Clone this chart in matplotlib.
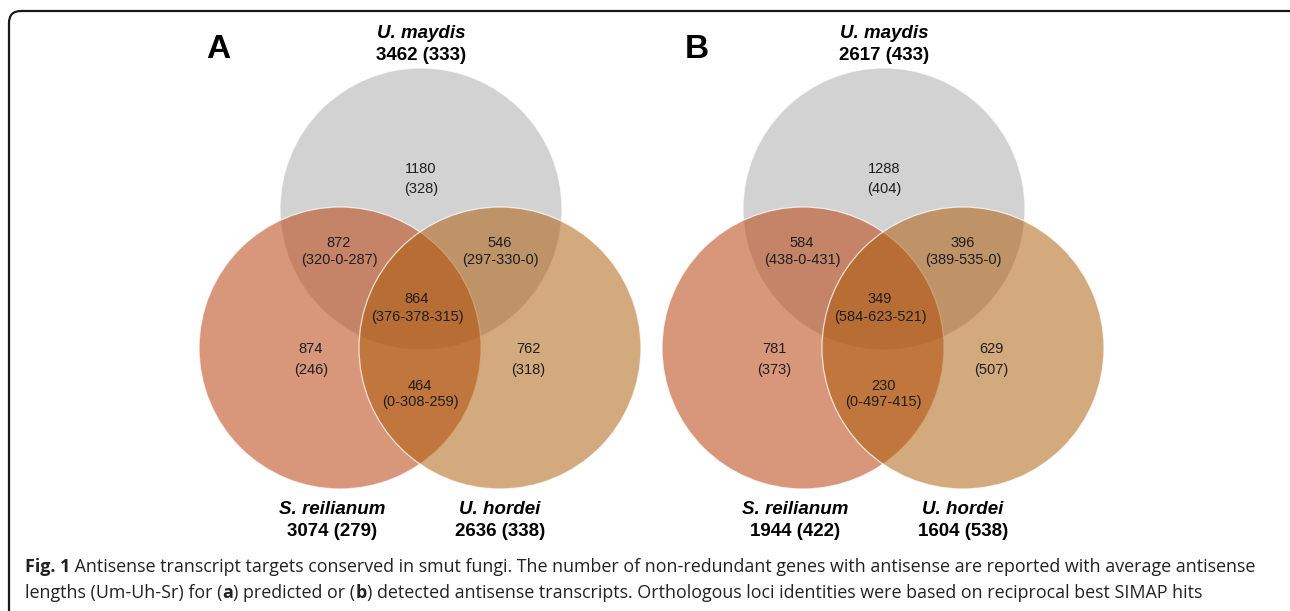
"""
Venn diagrams of antisense transcript targets (Um / Sr / Uh), panels A and B
"""
import matplotlib
matplotlib.use("Agg")
import matplotlib.pyplot as plt
from matplotlib.patches import Circle, FancyBboxPatch

# ---- data ----
panel_letters = ["A", "B"]
species = ["U. maydis", "S. reilianum", "U. hordei"]

# totals and average antisense length per species (Um, Sr, Uh)
totals_A = [3462, 3074, 2636]
avg_len_A = [333, 279, 338]
totals_B = [2617, 1944, 1604]
avg_len_B = [433, 422, 538]

# regions: Um only, Um-Sr, Um-Uh, all three, Sr only, Uh only, Sr-Uh
counts_A = [1180, 872, 546, 864, 874, 762, 464]
lengths_A = ["328", "320-0-287", "297-330-0", "376-378-315", "246", "318", "0-308-259"]
counts_B = [1288, 584, 396, 349, 781, 629, 230]
lengths_B = ["404", "438-0-431", "389-535-0", "584-623-521", "373", "507", "0-497-415"]

caption_line1 = [("Fig. 1", "bold"),
                 (" Antisense transcript targets conserved in smut fungi. The number of "
                  "non-redundant genes with antisense are reported with average antisense", "normal")]
caption_line2 = [("lengths (Um-Uh-Sr) for (", "normal"), ("a", "bold"),
                 (") predicted or (", "normal"), ("b", "bold"),
                 (") detected antisense transcripts. Orthologous loci identities were based on "
                  "reciprocal best SIMAP hits", "normal")]

# ---- layout (pixel coords, y down) ----
W, H = 1290, 611
panel_cx = [421, 884]          # x of the U. maydis circle centre
letter_xy = [(218, 50), (697, 50)]
R = 141
# circle centres relative to panel centre: Um, Sr, Uh
circle_off = [(0, 209), (-81, 348), (79, 348)]
circle_col = [(0.824, 0.824, 0.824, 1.0),
              (188 / 255, 73 / 255, 24 / 255, 0.57),
              (170 / 255, 88 / 255, 0 / 255, 0.51)]
# region label offsets (x, y of count line, gap to length line)
region_off = [(0, 169, 20), (-82, 243, 17), (79, 243, 17), (-4, 299, 18),
              (-110, 349, 21), (107, 349, 21), (-1, 386, 16)]
species_off = [(0, 33), (-89, 510), (79, 510)]

num_font = ["Liberation Sans Narrow", "Liberation Sans", "DejaVu Sans"]
cap_font = ["Open Sans", "DejaVu Sans"]

fig = plt.figure(figsize=(W / 100, H / 100), dpi=100)
ax = fig.add_axes([0, 0, 1, 1])
ax.set_xlim(0, W)
ax.set_ylim(H, 0)
ax.axis("off")

# rounded frame (runs past right / bottom edge like the source)
frame = FancyBboxPatch((9, 11), 1300, 640, boxstyle="round,pad=0,rounding_size=12",
                       fc="none", ec="#1a1a1a", lw=1.6, zorder=0)
ax.add_patch(frame)

panels = [(totals_A, avg_len_A, counts_A, lengths_A),
          (totals_B, avg_len_B, counts_B, lengths_B)]

for p, (totals, avgs, counts, lens) in enumerate(panels):
    cx = panel_cx[p]
    for (dx, cy), col in zip(circle_off, circle_col):
        ax.add_patch(Circle((cx + dx, cy), R, fc=col, ec=(1, 1, 1, 0.75), lw=0.9, zorder=1))

    for (dx, y, gap), n, ln in zip(region_off, counts, lens):
        ax.text(cx + dx, y, str(n), ha="center", va="center", fontsize=10.5,
                family=num_font, color="#1e1e1e", zorder=3)
        ax.text(cx + dx, y + gap, f"({ln})", ha="center", va="center", fontsize=10.5,
                family=num_font, color="#1e1e1e", zorder=3)

    for (dx, y), name, t, a in zip(species_off, species, totals, avgs):
        ax.text(cx + dx, y, name, ha="center", va="center", fontsize=13.5,
                family=num_font, style="italic", weight="bold", zorder=3)
        ax.text(cx + dx, y + 22, f"{t} ({a})", ha="center", va="center", fontsize=13.5,
                family=num_font, weight="bold", zorder=3)

    lx, ly = letter_xy[p]
    ax.text(lx, ly, panel_letters[p], ha="center", va="center", fontsize=24,
            family=["Liberation Sans", "DejaVu Sans"], weight="bold", zorder=3)

# caption, drawn run by run so bold pieces sit inline
renderer = fig.canvas.get_renderer()


def draw_runs(x, y, runs, size):
    for txt, wt in runs:
        t = ax.text(x, y, txt, ha="left", va="center", fontsize=size,
                    family=cap_font, weight=wt, color="#222222")
        x += t.get_window_extent(renderer).width


draw_runs(25, 567, caption_line1, 12.9)
draw_runs(25, 593, caption_line2, 12.9)

fig.savefig("out.png", dpi=100)
